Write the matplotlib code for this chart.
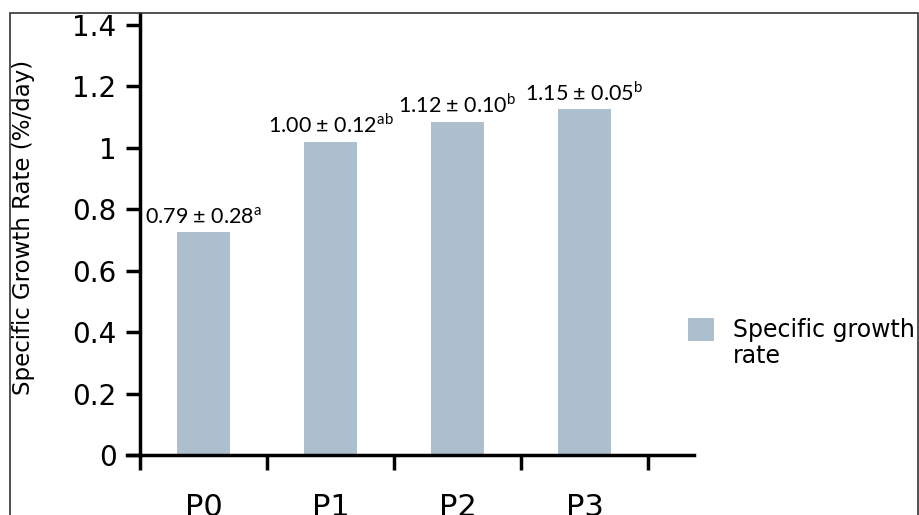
import matplotlib.pyplot as plt
from matplotlib.patches import Rectangle

plt.rcParams['font.family'] = ['DejaVu Sans']
plt.rcParams['mathtext.fontset'] = 'custom'
plt.rcParams['mathtext.rm'] = 'Lato'

# данные с графика
groups = ['P0', 'P1', 'P2', 'P3']
growth = [0.725, 1.02, 1.085, 1.125]
labels = ['0.79 ± 0.28', '1.00 ± 0.12', '1.12 ± 0.10', '1.15 ± 0.05']
letters = ['a', 'ab', 'b', 'b']
y_ticks = [0, 0.2, 0.4, 0.6, 0.8, 1, 1.2, 1.4]

bar_color = '#adbecd'

fig = plt.figure(figsize=(9.2, 5.15), dpi=100)
ax = fig.add_axes([127 / 920, 60 / 515, 567 / 920, 441 / 515])

x = list(range(len(groups)))
bars = ax.bar(x, growth, width=0.425, color=bar_color,
              label='Specific growth')

# подписи над столбцами
for xi, yi, txt, let in zip(x, growth, labels, letters):
    ax.annotate(txt + r'$^{\mathrm{' + let + '}}$', (xi, yi),
                xytext=(0, 6), textcoords='offset points',
                ha='center', va='baseline', fontsize=15.5, family='Lato')

ax.set_xlim(-0.5 - 13 / 127, 3.5 + 46 / 127)
ax.set_ylim(0, 1.435)

for s in ['top', 'right']:
    ax.spines[s].set_visible(False)
ax.spines['left'].set_position(('data', -0.5))
ax.spines['left'].set_linewidth(2.5)
ax.spines['bottom'].set_linewidth(2.5)

ax.set_yticks(y_ticks)
ax.set_yticklabels(['0', '0.2', '0.4', '0.6', '0.8', '1', '1.2', '1.4'])
ax.tick_params(axis='y', direction='out', length=10, width=2.5,
               labelsize=20, pad=7)

# основные деления на границах групп, подписи по центру
ax.set_xticks([-0.5, 0.5, 1.5, 2.5, 3.5])
ax.set_xticklabels([])
ax.set_xticks(x, minor=True)
ax.set_xticklabels(groups, minor=True)
ax.tick_params(axis='x', which='major', direction='out', length=11, width=2.5)
ax.tick_params(axis='x', which='minor', length=0, labelsize=22, pad=27)

ax.set_ylabel('Specific Growth Rate (%/day)', fontsize=16.5)
ax.yaxis.set_label_coords(-0.162, 0.515)

leg = ax.legend(loc='center left', bbox_to_anchor=(688 / 920, 1 - 330 / 515),
                bbox_transform=fig.transFigure, frameon=False, fontsize=17,
                handlelength=1.1, handleheight=1.15, handletextpad=0.8,
                borderaxespad=0, borderpad=0)

# вторая строка подписи легенды
fig.canvas.draw()
bb = leg.get_texts()[0].get_window_extent()
fig.text(bb.x0 / 920, (bb.y0 - 26) / 515, 'rate', fontsize=17,
         ha='left', va='bottom')

# рамка вокруг рисунка
fig.patches.append(Rectangle((10 / 920, -0.05), 908 / 920, 0.05 + 502 / 515,
                             transform=fig.transFigure, fill=False,
                             edgecolor='#333333', linewidth=1.2))

fig.savefig('out.png', dpi=100, facecolor='white')
